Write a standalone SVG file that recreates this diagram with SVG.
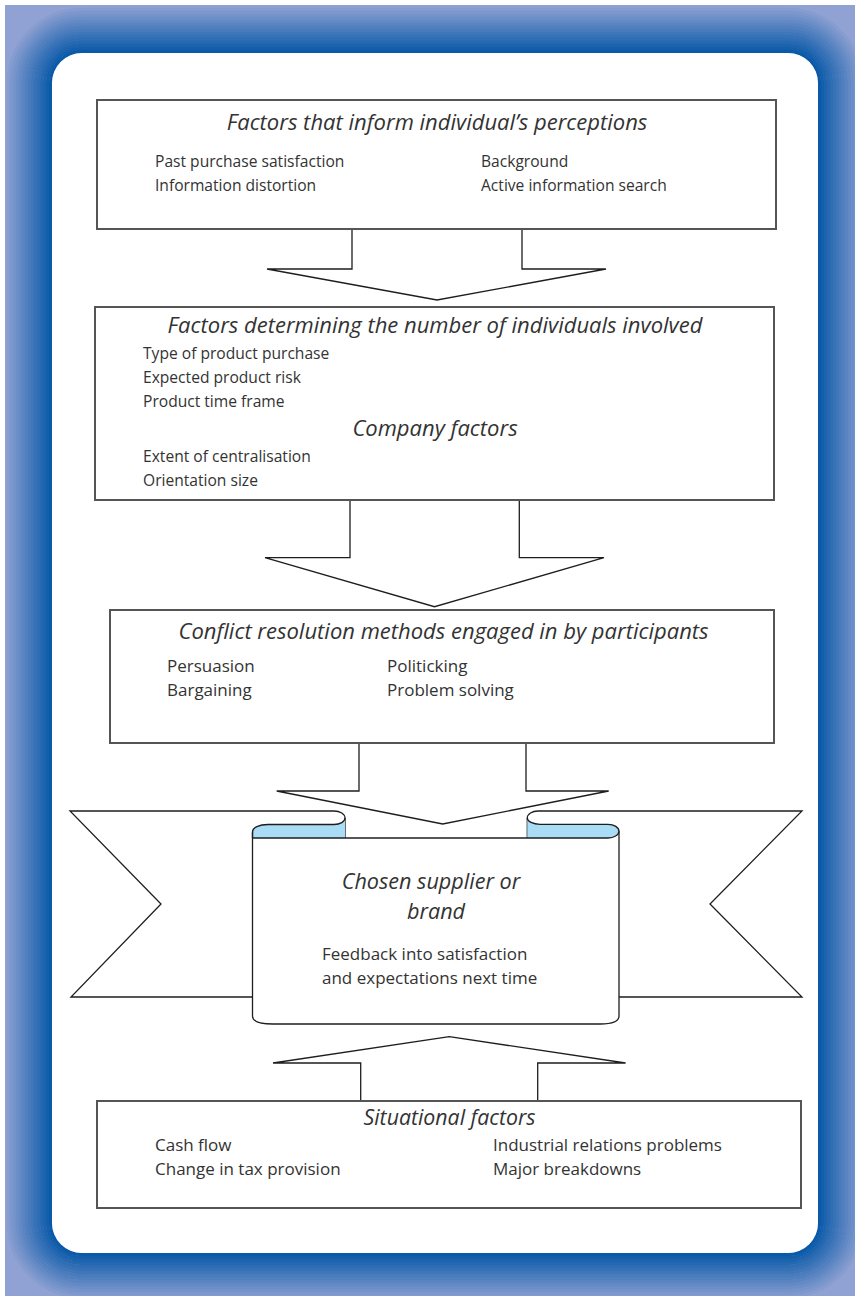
<svg xmlns="http://www.w3.org/2000/svg" width="855" height="1296" viewBox="0 0 855 1296">
<style>
.box{fill:#fff;stroke:#555;stroke-width:2}
.arr{fill:#fff;stroke:#1e1e1e;stroke-width:1.3;stroke-linejoin:miter}
.ln{fill:none;stroke:#1e1e1e;stroke-width:1.3}
.blue{fill:#a9dcf5;stroke:none}
.t{font-family:"Open Sans","Noto Sans",sans-serif;font-size:15.6px;fill:#333}
.t2{font-family:"Open Sans","Noto Sans",sans-serif;font-size:17px;fill:#333}
.h{font-family:"Open Sans","Noto Sans",sans-serif;font-size:22px;font-style:italic;fill:#333}
.ring{fill:none;stroke-width:3.3}
</style>
<defs>
<clipPath id="frame"><rect x="5" y="5" width="850" height="1291"/></clipPath>
</defs>
<g id="frame-bg" clip-path="url(#frame)">
<rect x="5" y="5" width="850" height="1291" fill="#90a2d3"/>
<rect class="ring" stroke="#90a2d3" x="5.5" y="6.5" width="859" height="1293" rx="76.5"/>
<rect class="ring" stroke="#879dd0" x="8.5" y="9.5" width="853" height="1287" rx="73.5"/>
<rect class="ring" stroke="#7e98cd" x="11.5" y="12.5" width="847" height="1281" rx="70.5"/>
<rect class="ring" stroke="#7594cb" x="14.5" y="15.5" width="841" height="1275" rx="67.5"/>
<rect class="ring" stroke="#6c8fc8" x="17.5" y="18.5" width="835" height="1269" rx="64.5"/>
<rect class="ring" stroke="#648ac5" x="20.5" y="21.5" width="829" height="1263" rx="61.5"/>
<rect class="ring" stroke="#5b85c2" x="23.5" y="24.5" width="823" height="1257" rx="58.5"/>
<rect class="ring" stroke="#5280bf" x="26.5" y="27.5" width="817" height="1251" rx="55.5"/>
<rect class="ring" stroke="#497cbd" x="29.5" y="30.5" width="811" height="1245" rx="52.5"/>
<rect class="ring" stroke="#4077ba" x="32.5" y="33.5" width="805" height="1239" rx="49.5"/>
<rect class="ring" stroke="#3772b7" x="35.5" y="36.5" width="799" height="1233" rx="46.5"/>
<rect class="ring" stroke="#2f6db4" x="38.5" y="39.5" width="793" height="1227" rx="43.5"/>
<rect class="ring" stroke="#2668b1" x="41.5" y="42.5" width="787" height="1221" rx="40.5"/>
<rect class="ring" stroke="#1d64af" x="44.5" y="45.5" width="781" height="1215" rx="37.5"/>
<rect class="ring" stroke="#145fac" x="47.5" y="48.5" width="775" height="1209" rx="34.5"/>
<rect class="ring" stroke="#0b5aa9" x="50.5" y="51.5" width="769" height="1203" rx="31.5"/>
<rect x="52" y="53" width="766" height="1200" rx="30" fill="#fff"/>
</g>

<g id="connectors">
<path class="arr" d="M352,229 V269 H267 L437,300 L606,269 H522 V229"/>
<path class="arr" d="M350,500 V557.7 H265 L434.5,606.7 L604,557.7 H519.3 V500"/>
<path class="arr" d="M359,743 V791 H276.7 L442.7,824 L608.7,791 H526 V743"/>
<path class="arr" d="M360.7,1101 V1063 H273 L449.3,1036.7 L625.6,1063 H537.7 V1101"/>
</g>

<g id="box1">
<rect class="box" x="97" y="100" width="679" height="129"/>
<text class="h" x="437" y="130" text-anchor="middle">Factors that inform individual’s perceptions</text>
<text class="t" x="155" y="167">Past purchase satisfaction</text>
<text class="t" x="155" y="191">Information distortion</text>
<text class="t" x="481" y="167">Background</text>
<text class="t" x="481" y="191">Active information search</text>
</g>

<g id="box2">
<rect class="box" x="95" y="307" width="679" height="193"/>
<text class="h" x="435" y="333" text-anchor="middle">Factors determining the number of individuals involved</text>
<text class="t" x="143" y="359">Type of product purchase</text>
<text class="t" x="143" y="383">Expected product risk</text>
<text class="t" x="143" y="407">Product time frame</text>
<text class="h" x="435" y="436" text-anchor="middle">Company factors</text>
<text class="t" x="143" y="462">Extent of centralisation</text>
<text class="t" x="143" y="486">Orientation size</text>
</g>

<g id="box3">
<rect class="box" x="110" y="610" width="664" height="133"/>
<text class="h" x="443.5" y="639" text-anchor="middle">Conflict resolution methods engaged in by participants</text>
<text class="t2" x="167" y="672">Persuasion</text>
<text class="t2" x="167" y="696">Bargaining</text>
<text class="t2" x="387" y="672">Politicking</text>
<text class="t2" x="387" y="696">Problem solving</text>
</g>

<g id="banner">
<path class="ln" d="M252.5,997 H71 L161,904 L70,811 H334 A11,7 0 0 1 345,818 V838"/>
<path class="ln" d="M619,997 H802 L710,904 L802,811 H538 A10.7,7 0 0 0 527.3,818 V838"/>
</g>

<g id="scroll">
<path d="M252.5,832 V1016 C252.5,1021 258,1024 273,1024 H600 C612,1024 619,1021 619,1016 V831.3 L608,838 H252.5 Z" fill="#fff" stroke="none"/>
<path class="blue" d="M252.5,832 C252.5,827.5 259,824.5 268,824.5 H334 A11,6.5 0 0 0 345,818 V838 H252.5 Z"/>
<path class="blue" d="M527.3,818 A12.7,6.3 0 0 0 540,824.3 H608 A11,7 0 0 1 619,831.3 A11,7 0 0 1 608,838 H527.3 Z"/>
<path class="ln" d="M252.5,838 V832 C252.5,827.5 259,824.5 268,824.5 H334 A11,6.5 0 0 0 345,818"/>
<path class="ln" d="M527.3,818 A12.7,6.3 0 0 0 540,824.3 H608 A11,7 0 0 1 619,831.3 A11,7 0 0 1 608,838"/>
<path class="ln" d="M252.5,838 H608"/>
<path class="ln" d="M252.5,832 V1016 C252.5,1021 258,1024 273,1024 H600 C612,1024 619,1021 619,1016 V831.3"/>
<text class="h" x="431" y="889" text-anchor="middle" style="font-size:21.6px">Chosen supplier or</text>
<text class="h" x="436" y="919" text-anchor="middle" style="font-size:21.6px">brand</text>
<text class="t2" x="322" y="960">Feedback into satisfaction</text>
<text class="t2" x="322" y="984">and expectations next time</text>
</g>

<g id="box4">
<rect class="box" x="97" y="1101" width="704" height="107"/>
<text class="h" x="449.5" y="1125" text-anchor="middle" style="font-size:21.3px">Situational factors</text>
<text class="t2" x="155" y="1151">Cash flow</text>
<text class="t2" x="155" y="1175">Change in tax provision</text>
<text class="t2" x="493" y="1151">Industrial relations problems</text>
<text class="t2" x="493" y="1175">Major breakdowns</text>
</g>
</svg>
